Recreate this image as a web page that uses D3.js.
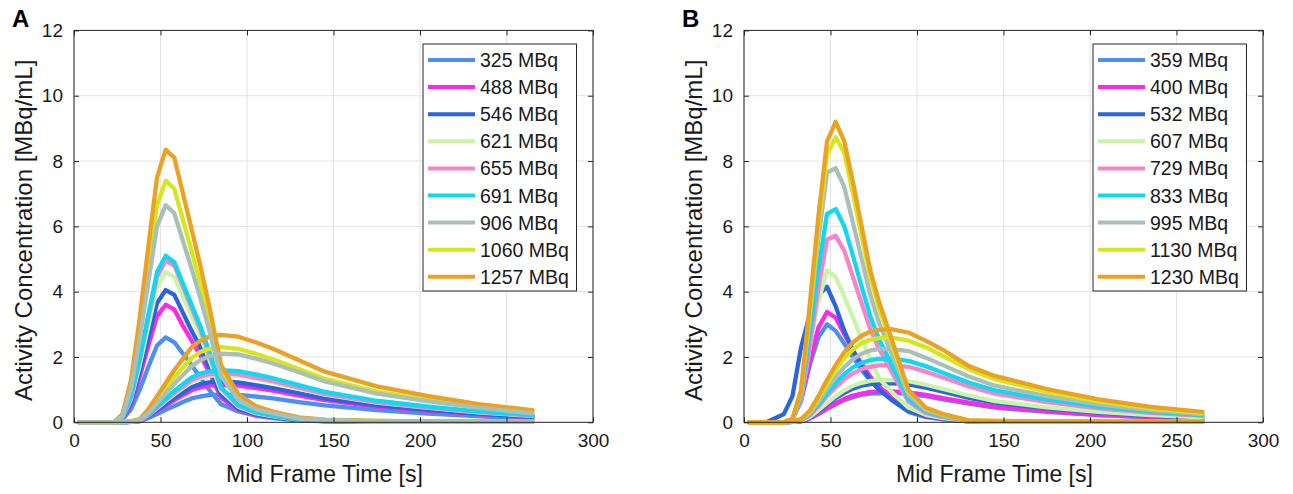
<!DOCTYPE html>
<html>
<head>
<meta charset="utf-8">
<script src="https://cdn.jsdelivr.net/npm/d3@7"></script>
<style>
  body { margin: 0; background: #fff; }
  svg { font-family: "Liberation Sans", Arial, sans-serif; }
</style>
</head>
<body>
<svg id="chart" width="1293" height="494"></svg>
<script>
// mid frame times [s]
const times = [3, 13, 23, 28, 33, 38, 43, 48, 53, 58, 63, 68, 73, 78, 85, 95, 105, 115, 130, 145, 175, 205, 235, 265];

const colors = ["#4d8ff0", "#fb2ae6", "#2a64df", "#c9f5a6", "#f585c9", "#12d8ef", "#aabfb8", "#d6e61c", "#eba122"];

const xTicks = [0, 50, 100, 150, 200, 250, 300];
const yTicks = [0, 2, 4, 6, 8, 10, 12];

// panel A
const labelsA = ["325 MBq", "488 MBq", "546 MBq", "621 MBq", "655 MBq", "691 MBq", "906 MBq", "1060 MBq", "1257 MBq"];
const bloodA = [
  [0,0,0,0.08,0.4,1.0,1.7,2.35,2.6,2.45,2.1,1.75,1.38,1.0,0.55,0.33,0.2,0.13,0.06,0.03,0.02,0.01,0.01,0.01],
  [0,0,0,0.1,0.55,1.4,2.35,3.25,3.6,3.45,2.95,2.5,2.05,1.55,0.75,0.38,0.22,0.15,0.07,0.04,0.02,0.01,0.01,0.01],
  [0,0,0,0.12,0.63,1.55,2.6,3.65,4.05,3.9,3.35,2.8,2.3,1.7,0.85,0.42,0.25,0.16,0.07,0.04,0.02,0.01,0.01,0.01],
  [0,0,0,0.14,0.72,1.75,2.95,4.15,4.6,4.45,3.85,3.25,2.65,1.95,0.97,0.48,0.28,0.18,0.08,0.05,0.02,0.02,0.01,0.01],
  [0,0,0,0.15,0.77,1.9,3.2,4.45,4.95,4.8,4.15,3.5,2.85,2.1,1.04,0.51,0.3,0.2,0.09,0.05,0.03,0.02,0.01,0.01],
  [0,0,0,0.15,0.8,1.95,3.3,4.6,5.1,4.9,4.25,3.6,2.95,2.2,1.07,0.53,0.31,0.2,0.09,0.05,0.03,0.02,0.01,0.01],
  [0,0,0,0.2,1.04,2.55,4.3,6.0,6.65,6.4,5.55,4.7,3.8,2.85,1.4,0.69,0.4,0.27,0.12,0.07,0.03,0.02,0.02,0.02],
  [0,0,0,0.22,1.15,2.85,4.8,6.65,7.4,7.15,6.2,5.25,4.25,3.2,1.55,0.76,0.44,0.3,0.13,0.07,0.04,0.03,0.02,0.02],
  [0,0,0,0.25,1.3,3.2,5.4,7.5,8.35,8.1,7.0,5.9,4.8,3.6,1.75,0.86,0.5,0.33,0.15,0.08,0.04,0.03,0.02,0.02]
];
const tissueA = [
  [0,0,0,0,0.01,0.03,0.13,0.25,0.38,0.5,0.62,0.73,0.79,0.83,0.85,0.84,0.79,0.73,0.62,0.52,0.37,0.27,0.18,0.11],
  [0,0,0,0,0.01,0.04,0.17,0.34,0.51,0.68,0.83,0.98,1.07,1.12,1.15,1.12,1.05,0.97,0.82,0.68,0.48,0.35,0.24,0.16],
  [0,0,0,0,0.01,0.05,0.19,0.37,0.56,0.74,0.91,1.07,1.17,1.22,1.25,1.22,1.14,1.05,0.89,0.73,0.52,0.38,0.26,0.17],
  [0,0,0,0,0.02,0.05,0.22,0.43,0.65,0.86,1.05,1.24,1.35,1.42,1.45,1.42,1.33,1.22,1.03,0.85,0.6,0.44,0.3,0.2],
  [0,0,0,0,0.02,0.06,0.22,0.45,0.67,0.9,1.09,1.29,1.4,1.47,1.5,1.47,1.37,1.26,1.06,0.87,0.62,0.45,0.31,0.21],
  [0,0,0,0,0.02,0.06,0.24,0.48,0.72,0.96,1.17,1.37,1.49,1.56,1.6,1.57,1.47,1.35,1.14,0.93,0.66,0.48,0.33,0.22],
  [0,0,0,0.01,0.02,0.07,0.28,0.58,0.88,1.18,1.45,1.72,1.9,2.02,2.1,2.08,1.95,1.8,1.53,1.25,0.88,0.64,0.44,0.27],
  [0,0,0,0.01,0.03,0.09,0.34,0.69,1.03,1.37,1.68,1.97,2.15,2.25,2.3,2.25,2.1,1.93,1.63,1.33,0.94,0.69,0.47,0.32],
  [0,0,0,0.01,0.03,0.1,0.4,0.8,1.2,1.6,1.95,2.3,2.5,2.62,2.68,2.62,2.45,2.25,1.9,1.55,1.1,0.8,0.55,0.37]
];

// panel B
const labelsB = ["359 MBq", "400 MBq", "532 MBq", "607 MBq", "729 MBq", "833 MBq", "995 MBq", "1130 MBq", "1230 MBq"];
const bloodB = [
  [0,0,0,0.1,0.65,1.75,2.6,3.0,2.8,2.4,2.0,1.6,1.28,1.0,0.7,0.32,0.16,0.09,0.03,0.02,0.01,0.01,0.01,0.01],
  [0,0,0,0.1,0.7,1.9,2.9,3.38,3.2,2.7,2.2,1.8,1.4,1.1,0.75,0.35,0.18,0.1,0.03,0.02,0.01,0.01,0.01,0.01],
  [0,0,0.25,0.8,2.3,3.3,3.9,4.15,3.55,2.8,2.2,1.7,1.3,1.0,0.7,0.35,0.19,0.11,0.03,0.02,0.01,0.01,0.01,0.01],
  [0,0,0,0.08,0.75,2.3,3.7,4.65,4.45,3.85,3.2,2.55,1.95,1.35,0.95,0.45,0.23,0.13,0.04,0.02,0.02,0.01,0.01,0.01],
  [0,0,0,0.07,0.7,2.35,4.1,5.6,5.71,5.25,4.45,3.65,2.85,2.25,1.58,0.63,0.29,0.16,0.04,0.03,0.02,0.01,0.01,0.01],
  [0,0,0,0.08,0.8,2.7,4.7,6.38,6.53,6.0,5.1,4.15,3.25,2.55,1.8,0.72,0.33,0.18,0.05,0.03,0.02,0.02,0.01,0.01],
  [0,0,0,0.1,0.9,3.2,5.6,7.65,7.78,7.2,6.1,5.0,3.9,3.05,2.15,0.85,0.38,0.21,0.05,0.03,0.02,0.02,0.02,0.02],
  [0,0,0,0.1,0.95,3.4,6.0,8.2,8.73,8.25,7.0,5.7,4.45,3.5,2.45,0.95,0.43,0.24,0.06,0.04,0.03,0.02,0.02,0.02],
  [0,0,0,0.1,1.0,3.6,6.3,8.6,9.2,8.6,7.35,6.0,4.65,3.7,2.6,1.0,0.45,0.25,0.06,0.04,0.03,0.02,0.02,0.02]
];
const tissueB = [
  [0,0,0,0.01,0.03,0.11,0.25,0.41,0.55,0.68,0.77,0.84,0.88,0.89,0.9,0.87,0.8,0.7,0.57,0.45,0.32,0.22,0.15,0.1],
  [0,0,0,0.01,0.03,0.12,0.27,0.43,0.58,0.72,0.82,0.88,0.93,0.94,0.95,0.92,0.84,0.74,0.6,0.48,0.34,0.23,0.16,0.11],
  [0,0,0,0.01,0.04,0.15,0.34,0.55,0.74,0.9,1.03,1.12,1.17,1.19,1.2,1.16,1.06,0.94,0.75,0.6,0.43,0.3,0.2,0.14],
  [0,0,0,0.01,0.05,0.16,0.37,0.59,0.8,0.98,1.12,1.21,1.27,1.29,1.3,1.26,1.15,1.02,0.82,0.65,0.46,0.32,0.22,0.15],
  [0,0,0,0.01,0.06,0.21,0.49,0.8,1.07,1.32,1.5,1.63,1.7,1.74,1.75,1.7,1.55,1.37,1.1,0.88,0.62,0.43,0.29,0.2],
  [0,0,0,0.01,0.07,0.24,0.55,0.89,1.2,1.47,1.68,1.82,1.9,1.94,1.95,1.88,1.72,1.52,1.22,0.98,0.7,0.48,0.33,0.22],
  [0,0,0,0.02,0.08,0.28,0.63,1.02,1.38,1.7,1.93,2.1,2.2,2.24,2.25,2.18,1.98,1.75,1.4,1.12,0.8,0.55,0.37,0.25],
  [0,0,0,0.02,0.09,0.32,0.73,1.18,1.6,1.96,2.23,2.42,2.53,2.58,2.6,2.5,2.3,2.03,1.62,1.32,0.93,0.64,0.43,0.29],
  [0,0,0,0.02,0.1,0.35,0.8,1.3,1.75,2.15,2.45,2.65,2.78,2.83,2.85,2.75,2.5,2.22,1.72,1.42,1.02,0.7,0.47,0.32]
];

const svg = d3.select("#chart");

function drawPanel(p) {
  const x = d3.scaleLinear().domain([0, 300]).range([p.left, p.left + 519]);
  const y = d3.scaleLinear().domain([0, 12]).range([422.3, 30.4]);
  const g = svg.append("g");

  // grid
  g.selectAll(".gx").data(xTicks).enter().append("line")
    .attr("x1", d => x(d)).attr("x2", d => x(d))
    .attr("y1", y(0)).attr("y2", y(12))
    .attr("stroke", "#e3e3e3").attr("stroke-width", 1);
  g.selectAll(".gy").data(yTicks).enter().append("line")
    .attr("x1", x(0)).attr("x2", x(300))
    .attr("y1", d => y(d)).attr("y2", d => y(d))
    .attr("stroke", "#e3e3e3").attr("stroke-width", 1);

  // curves
  const line = d3.line().x((d, i) => x(times[i])).y(d => y(d));
  p.order.forEach(k => {
    [p.blood[k], p.tissue[k]].forEach(vals => {
      g.append("path").datum(vals)
        .attr("d", line)
        .attr("fill", "none")
        .attr("stroke", colors[k])
        .attr("stroke-width", 4.3)
        .attr("stroke-linejoin", "round")
        .attr("stroke-linecap", "round");
    });
  });

  // axes with inward ticks
  const axStyle = a => {
    a.select(".domain").remove();
    a.selectAll(".tick line").attr("stroke", "#262626");
    a.selectAll("text").attr("fill", "#1a1a1a").style("font-size", "19px");
  };
  g.append("g").attr("transform", `translate(0,${y(0)})`)
    .call(d3.axisBottom(x).tickValues(xTicks).tickSizeInner(-5).tickSizeOuter(0).tickPadding(11))
    .call(axStyle);
  g.append("g").attr("transform", `translate(${x(0)},0)`)
    .call(d3.axisLeft(y).tickValues(yTicks).tickSizeInner(-5).tickSizeOuter(0).tickPadding(11))
    .call(axStyle);
  g.append("g").attr("transform", `translate(0,${y(12)})`)
    .call(d3.axisTop(x).tickValues(xTicks).tickSizeInner(-5).tickSizeOuter(0).tickFormat(""))
    .call(axStyle);
  g.append("g").attr("transform", `translate(${x(300)},0)`)
    .call(d3.axisRight(y).tickValues(yTicks).tickSizeInner(-5).tickSizeOuter(0).tickFormat(""))
    .call(axStyle);

  g.append("rect")
    .attr("x", x(0)).attr("y", y(12))
    .attr("width", x(300) - x(0)).attr("height", y(0) - y(12))
    .attr("fill", "none").attr("stroke", "#262626").attr("stroke-width", 1);

  // axis titles
  g.append("text")
    .attr("x", (x(0) + x(300)) / 2 - 9).attr("y", 482)
    .attr("text-anchor", "middle").style("font-size", "23px").attr("fill", "#1a1a1a")
    .text("Mid Frame Time [s]");
  g.append("text")
    .attr("transform", `translate(${p.left - 42},${(y(0) + y(12)) / 2 + 4}) rotate(-90)`)
    .attr("text-anchor", "middle").style("font-size", "24px").attr("fill", "#1a1a1a")
    .text("Activity Concentration [MBq/mL]");

  // panel letter
  g.append("text")
    .attr("x", p.left - 62).attr("y", 27)
    .style("font-size", "24px").style("font-weight", "bold")
    .text(p.letter);

  // legend
  const lx = x(300) - 170, ly = 44;
  const lg = g.append("g").attr("transform", `translate(${lx},${ly})`);
  lg.append("rect").attr("width", 153.5).attr("height", 247)
    .attr("fill", "#fff").attr("stroke", "#262626").attr("stroke-width", 1);
  p.labels.forEach((lab, k) => {
    const cy = 16 + k * 27.1;
    lg.append("line").attr("x1", 5).attr("x2", 52).attr("y1", cy).attr("y2", cy)
      .attr("stroke", colors[k]).attr("stroke-width", 4);
    lg.append("text").attr("x", 57).attr("y", cy).attr("dy", "0.36em")
      .style("font-size", "19.5px").attr("fill", "#1a1a1a").text(lab);
  });
}

drawPanel({ left: 74, letter: "A", labels: labelsA, blood: bloodA, tissue: tissueA, order: [0, 1, 2, 3, 4, 5, 7, 8, 6] });
drawPanel({ left: 744, letter: "B", labels: labelsB, blood: bloodB, tissue: tissueB, order: [0, 1, 2, 3, 4, 5, 6, 7, 8] });
</script>
</body>
</html>
